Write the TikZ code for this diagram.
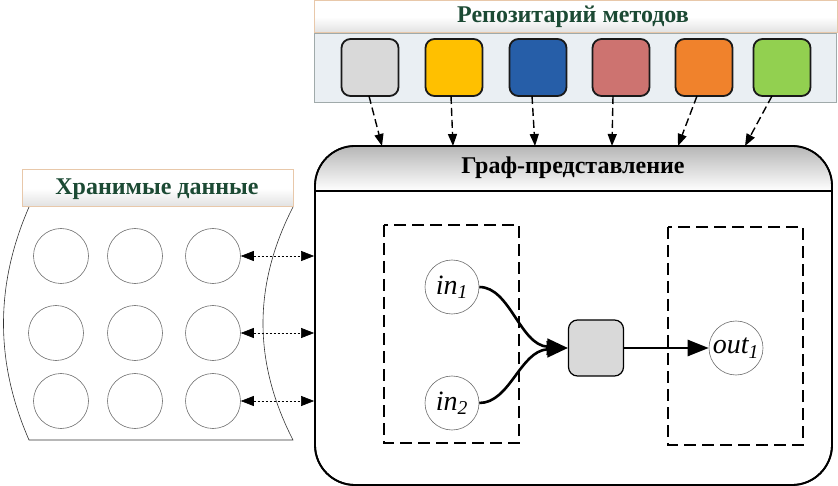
\documentclass[tikz,border=0pt]{standalone}
\usepackage{fontspec}
\setmainfont{Liberation Serif}
\usetikzlibrary{arrows.meta}
\definecolor{titlegreen}{RGB}{28,74,52}
\definecolor{peach}{RGB}{232,200,170}
\definecolor{panelbg}{RGB}{234,239,243}
\definecolor{panelbd}{RGB}{160,170,170}
\definecolor{mgray}{RGB}{217,217,217}
\definecolor{myellow}{RGB}{255,192,0}
\definecolor{mblue}{RGB}{38,94,168}
\definecolor{mrose}{RGB}{205,115,112}
\definecolor{morange}{RGB}{240,130,44}
\definecolor{mgreen}{RGB}{146,208,80}
\definecolor{circbd}{RGB}{110,110,110}
\tikzset{
  hdr/.style={draw=peach, line width=1pt, top color=white, bottom color=black!12, middle color=white},
  title/.style={font=\fontsize{24}{27}\selectfont\bfseries},
  method/.style={draw=black!90, line width=1.8pt, rounded corners=9pt, minimum width=57pt, minimum height=57pt, inner sep=0pt},
  datacirc/.style={circle, draw=circbd, line width=0.6pt, minimum size=55pt, inner sep=0pt},
  varcirc/.style={circle, draw=circbd, line width=0.6pt, minimum size=54pt, inner sep=0pt, font=\fontsize{28}{30}\selectfont\itshape},
  dashbox/.style={draw, line width=2.5pt, dash pattern=on 12pt off 6pt},
  repoarrow/.style={draw, line width=1.4pt, dash pattern=on 8pt off 4pt, -{Triangle[length=12pt,width=9pt]}},
  dataarrow/.style={draw, line width=0.6pt, dash pattern=on 2pt off 2pt, {Triangle[length=13pt,width=10pt]}-{Triangle[length=13pt,width=10pt]}},
  flow/.style={draw, line width=2.6pt, -{Triangle[length=21pt,width=16pt]}}
}
\begin{document}
\begin{tikzpicture}[x=1pt,y=-1pt]
\useasboundingbox (0,0) rectangle (838,486);

% ---------- repository ----------
\path[hdr] (314,1) rectangle (837,33);
\node[title, text=titlegreen] (repotitle) at (573,17) {Репозитарий методов};
\path[draw=panelbd, fill=panelbg, line width=0.8pt] (314,33) rectangle (836,102);
\node[method, fill=mgray]   (m1) at (370,67.5) {};
\node[method, fill=myellow] (m2) at (454,67.5) {};
\node[method, fill=mblue]   (m3) at (538,67.5) {};
\node[method, fill=mrose]   (m4) at (621,67.5) {};
\node[method, fill=morange] (m5) at (704,67.5) {};
\node[method, fill=mgreen]  (m6) at (782,67.5) {};

% ---------- graph representation ----------
\node[draw, line width=1.8pt, rounded corners=40pt, minimum width=517pt, minimum height=339pt, inner sep=0pt] (g) at (573.5,315.5) {};
\path[top color=black!28, bottom color=white] (315.9,191) [rounded corners=39pt] -- (315.9,146.9) -- (831.1,146.9) [sharp corners] -- (831.1,191) -- cycle;
\node[draw, line width=1.8pt, rounded corners=40pt, minimum width=517pt, minimum height=339pt, inner sep=0pt] at (573.5,315.5) {};
\draw[line width=1.2pt] (315,191) -- (832,191);
\node[title] (gtitle) at (573,168) {Граф-представление};

\coordinate (t1) at (382,146);
\coordinate (t2) at (453,146);
\coordinate (t3) at (535,146);
\coordinate (t4) at (612,146);
\coordinate (t5) at (678,146);
\coordinate (t6) at (745,146);
\coordinate (s1) at (369,96);
\coordinate (s2) at (451,96);
\coordinate (s3) at (532,96);
\coordinate (s4) at (613,96);
\coordinate (s5) at (697,96);
\coordinate (s6) at (772,96);
\foreach \i in {1,...,6} { \path[repoarrow] (s\i) -- (t\i); }

\draw[dashbox] (384,225) rectangle (519,443);
\draw[dashbox] (668,227) rectangle (803,445);

\node[varcirc] (in1) at (452,287) {in\textsubscript{1}};
\node[varcirc] (in2) at (452,403) {in\textsubscript{2}};
\node[draw, line width=1.2pt, fill=mgray, rounded corners=9pt, minimum width=55pt, minimum height=56pt, inner sep=0pt] (op) at (596,348) {};
\node[varcirc] (out1) at (736,348) {out\textsubscript{1}};

\path[flow] (in1.east) .. controls (510,287) and (520,345) .. (op.west);
\path[flow] (in2.east) .. controls (510,403) and (520,351) .. (op.west);
\path[flow] (op.east) -- (out1.west);

% ---------- stored data ----------
\draw[line width=0.6pt, draw=black!80] (29,207) .. controls (-5,285) and (-5,362) .. (29,440) -- (293,440) .. controls (253,362) and (253,285) .. (293,207);
\path[hdr] (22,170) rectangle (293,207);
\node[title, text=titlegreen] (dtitle) at (157,189) {Хранимые данные};

\node[datacirc] (c11) at (61,256) {};
\node[datacirc] (c12) at (135,256) {};
\node[datacirc] (c13) at (213,256) {};
\node[datacirc] (c21) at (56,333) {};
\node[datacirc] (c22) at (135,333) {};
\node[datacirc] (c23) at (213,333) {};
\node[datacirc] (c31) at (61,401) {};
\node[datacirc] (c32) at (135,401) {};
\node[datacirc] (c33) at (213,401) {};

\path[dataarrow] (c13.east) -- (c13.east -| g.west);
\path[dataarrow] (c23.east) -- (c23.east -| g.west);
\path[dataarrow] (c33.east) -- (c33.east -| g.west);
\end{tikzpicture}
\end{document}
